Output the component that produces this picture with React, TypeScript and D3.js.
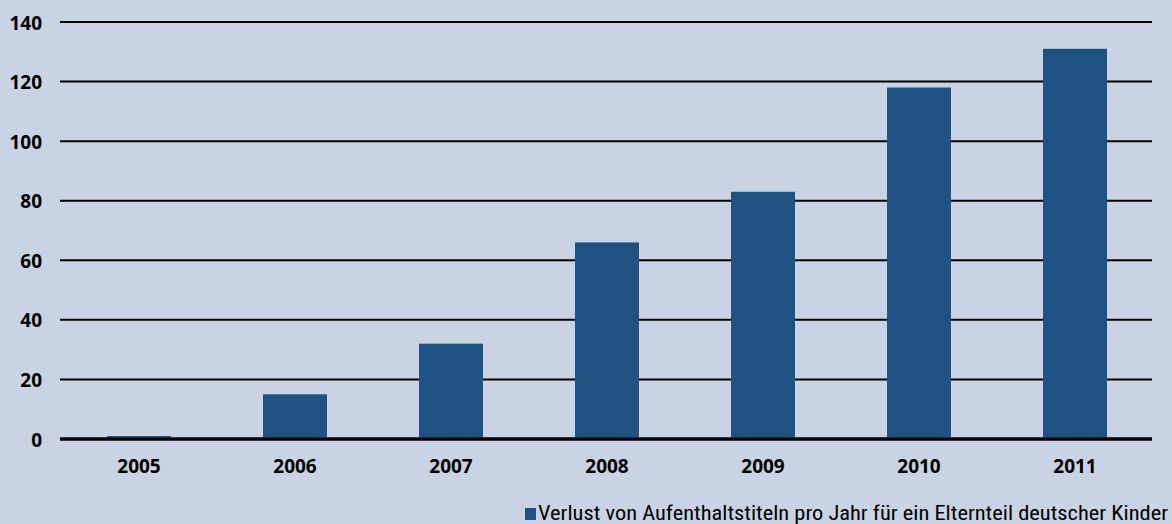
import React from "react";
import * as d3 from "d3";

const years = ["2005", "2006", "2007", "2008", "2009", "2010", "2011"];
const values = [1, 15, 32, 66, 83, 118, 131];
const yTicks = [0, 20, 40, 60, 80, 100, 120, 140];
const legendLabel = "Verlust von Aufenthaltstiteln pro Jahr für ein Elternteil deutscher Kinder";

const W = 1172;
const H = 524;
const BG = "#c9d3e3";
const BAR = "#1f5283";

export default function App() {
  const x = d3.scaleBand<string>().domain(years).range([61, 1153]).paddingInner(0.59).paddingOuter(0.295);
  const y = d3.scaleLinear().domain([0, 140]).range([439, 22]);
  const font = "'Open Sans', 'DejaVu Sans', sans-serif";
  return (
    <svg width={W} height={H} style={{ position: "absolute", left: 0, top: 0, display: "block" }}>
      <rect x={0} y={0} width={W} height={H} fill={BG} />
      {yTicks.map((t) => (
        <g key={t}>
          <line x1={60} x2={1152} y1={y(t)} y2={y(t)} stroke="#000" strokeWidth={t === 0 ? 3 : 2} />
          <text x={42} y={y(t) + 7.5} textAnchor="end" fontFamily={font} fontWeight={700} fontSize={19} fill="#000">
            {t}
          </text>
        </g>
      ))}
      {years.map((yr, i) => (
        <rect key={yr} x={x(yr)} y={y(values[i])} width={x.bandwidth()} height={y(0) - y(values[i])} fill={BAR} />
      ))}
      <line x1={60} x2={1152} y1={y(0)} y2={y(0)} stroke="#000" strokeWidth={3} />
      {years.map((yr) => (
        <text key={yr} x={(x(yr) as number) + x.bandwidth() / 2} y={473} textAnchor="middle" fontFamily={font} fontWeight={700} fontSize={19} fill="#000">
          {yr}
        </text>
      ))}
      <rect x={525} y={508} width={11} height={12} fill={BAR} />
      <text x={538} y={520} fontFamily="'Liberation Sans Narrow', 'Roboto Condensed', sans-serif" fontSize={21} fill="#000" textLength={630} lengthAdjust="spacingAndGlyphs">
        {legendLabel}
      </text>
    </svg>
  );
}
